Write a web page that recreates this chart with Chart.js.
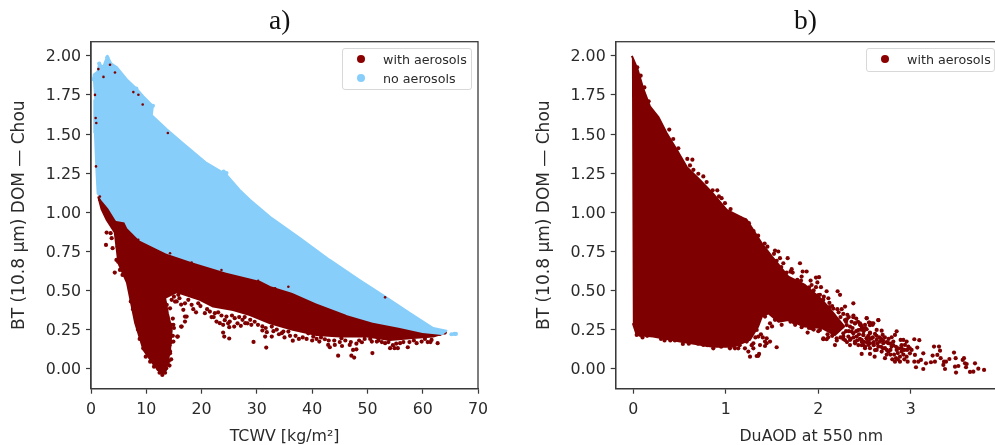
<!doctype html>
<html>
<head>
<meta charset="UTF-8" />
<title>BT difference scatter</title>
<style>
  html, body { margin: 0; padding: 0; background: #fff; overflow: hidden; width: 995px; height: 445px; }
  canvas { position: absolute; top: 0; filter: blur(0.45px); }
  #chartA { left: 0; }
  #chartB { left: 520px; }
  .panel { position: absolute; top: 4px; font: 27.5px "Liberation Serif", serif; color: #111; line-height: 32px; }
  .legend { position: absolute; top: 47.5px; box-sizing: border-box; background: #fff; border: 1px solid #d8d8d8; border-radius: 3px;
            font: 12.7px "DejaVu Sans", sans-serif; color: #2a2a2a; filter: blur(0.3px); }
  .legend div { position: absolute; white-space: nowrap; line-height: 19px; }
  .legend i { position: absolute; width: 8px; height: 8px; border-radius: 50%; }
</style>
</head>
<body>
<canvas id="chartA" width="520" height="445"></canvas>
<canvas id="chartB" width="500" height="445"></canvas>
<div class="panel" id="titleA" style="left:269px"></div>
<div class="panel" id="titleB" style="left:794px"></div>
<div class="legend" id="legendA" style="left:342px;width:130px;height:42px"></div>
<div class="legend" id="legendB" style="left:866px;width:129px;height:24px"></div>

<script src="https://cdn.jsdelivr.net/npm/chart.js@4/dist/chart.umd.min.js"></script>
<script>
const panelTitles = ["a)", "b)"];
const yLabel = "BT (10.8 μm) DOM — Chou";
const xLabelA = "TCWV [kg/m²]";
const xLabelB = "DuAOD at 550 nm";
const seriesWith = "with aerosols";
const seriesWithout = "no aerosols";
const yTicks = [0, 0.25, 0.5, 0.75, 1, 1.25, 1.5, 1.75, 2];
const xTicksA = [0, 10, 20, 30, 40, 50, 60, 70];
const xTicksB = [0, 1, 2, 3];

const colorWith = "#7f0000";
const colorWithout = "#87cefa";
const inkColor = "#2a2a2a";
const spineColor = "#3a3a3a";
const labelFont = { family: "'DejaVu Sans'", size: 15.8 };
const yTitleFont = { family: "'DejaVu Sans'", size: 17 };

// a) outline of the solid light blue cloud
const noAerosolOutlineA = [
  [0.35, 1.84], [0.5, 1.88], [1.2, 1.9], [1.45, 1.95], [2.2, 1.93], [2.95, 2.0], [3.7, 1.95], [4.6, 1.93], [6.45, 1.85],
  [8.25, 1.79], [9.5, 1.74], [11.2, 1.68], [11, 1.62], [13.7, 1.53], [16.7, 1.44], [20.9, 1.315], [24.5, 1.24],
  [26.9, 1.143], [28.75, 1.08], [32.7, 0.962], [37.8, 0.835], [43.2, 0.695], [48.6, 0.567], [52.8, 0.47],
  [57.7, 0.355], [61.9, 0.26], [64.3, 0.243], [63.5, 0.222], [60, 0.235], [55.9, 0.267], [51, 0.3], [46.2, 0.35],
  [40.8, 0.422], [36.5, 0.49], [32.4, 0.535], [30.6, 0.567], [24.5, 0.62], [18.4, 0.685], [13.7, 0.74],
  [8.9, 0.823], [6.7, 0.9], [6.15, 0.94], [4.6, 0.95], [3.2, 1.03], [2, 1.08], [1.2, 1.12], [1, 1.25],
  [0.7, 1.51], [0.6, 1.72],
];

// a) outline of the solid dark red cloud, most of its top is hidden by the blue one
const withAerosolOutlineA = [
  [1.3, 1.1], [1.9, 1.02], [2.85, 0.95], [4.3, 0.87], [4.95, 0.675], [6.5, 0.55], [8, 0.29], [9.5, 0.12], [11.6, 0.013],
  [12.8, -0.03], [13.6, -0.008], [14.3, 0.12], [14.6, 0.247], [13.9, 0.355], [13.4, 0.452], [15.5, 0.49], [19.7, 0.44],
  [22.1, 0.397], [25.7, 0.375], [28.75, 0.343], [32.4, 0.29], [36.5, 0.248], [40.8, 0.215], [45, 0.205], [49.9, 0.205],
  [54.1, 0.184], [58.2, 0.196], [61.9, 0.205], [63.9, 0.228], [62, 0.24], [60, 0.27], [30, 0.7], [10, 1],
];

// a) single dark red points around the lower edge
const withAerosolPointsA = [
  [14.1, 0.482], [14.59, 0.44], [15.79, 0.472], [17, 0.418], [18.2, 0.408], [19.4, 0.418], [20.6, 0.355], [17.3, 0.333],
  [17, 0.301], [16.3, 0.269], [15.7, 0.205], [14.3, 0.11], [14, 0.291], [14.6, 0.28], [13.7, 0.408], [14.3, 0.386],
  [21.5, 0.365], [22.4, 0.355], [22.7, 0.301], [23.3, 0.291], [23.9, 0.28], [25, 0.265], [25.9, 0.269], [27.1, 0.274],
  [27.4, 0.312], [24.5, 0.333], [26, 0.323], [23.9, 0.231], [24.1, 0.205], [25, 0.193], [29.4, 0.171], [31.7, 0.135],
  [31, 0.244], [31.8, 0.233], [32.7, 0.205], [31.5, 0.205], [32.7, 0.269], [34.5, 0.227], [34.8, 0.237], [28.8, 0.312],
  [27.9, 0.291], [25.1, 0.301], [15.2, 0.429], [16.7, 0.376], [36.5, 0.179], [41.3, 0.173], [42.3, 0.188], [42.9, 0.152],
  [43.2, 0.137], [44.1, 0.152], [45.4, 0.145], [44.7, 0.083], [47.1, 0.083], [47.6, 0.071], [50.9, 0.1], [47.4, 0.12],
  [48, 0.124], [46.8, 0.152], [49, 0.169], [50.8, 0.173], [51.7, 0.173], [53.2, 0.163], [54.1, 0.131], [54.9, 0.131],
  [55.5, 0.131], [57.3, 0.137], [58.9, 0.163], [59.8, 0.173], [62.7, 0.163], [61.6, 0.184], [55.9, 0.163], [45.3, 0.195],
  [40.2, 0.205], [39.3, 0.226], [35.7, 0.237], [64, 0.231], [63.1, 0.222], [2.71, 0.791], [2.83, 0.87], [3.74, 0.834],
  [3.91, 0.77], [4.3, 0.614], [4.6, 0.695], [4.9, 0.684], [3.55, 0.866], [5.7, 0.599], [5.24, 0.631], [4.34, 0.898],
  [16.4, 0.269], [15.6, 0.205], [17, 0.333], [14.9, 0.173], [14, 0.109], [14.3, 0.098], [12.8, -0.008], [12.4, -0.026],
  [13.4, -0.026], [12.9, -0.04], [12.2, -0.004], [13.6, 0.002], [9.45, 0.13], [9.9, 0.077], [10.7, 0.045], [11.4, 0.013],
  [15, 0.46], [15.5, 0.43], [16, 0.45], [16.3, 0.41], [17.6, 0.44], [18.5, 0.38], [19, 0.36], [19.8, 0.4], [21, 0.38],
  [21.8, 0.33], [22.2, 0.33], [23, 0.36], [23.6, 0.34], [24.2, 0.31], [24.8, 0.29], [25.5, 0.34], [26.5, 0.29], [26.8, 0.33],
  [27.8, 0.33], [28.3, 0.29], [29, 0.28], [29.6, 0.3], [30.2, 0.28], [31, 0.27], [31.6, 0.26], [33, 0.24], [33.6, 0.25],
  [34, 0.22], [35, 0.2], [36, 0.21], [37, 0.21], [37.6, 0.19], [38.3, 0.2], [39, 0.19], [40, 0.18], [40.8, 0.19], [41.6, 0.2],
  [43, 0.18], [44, 0.18], [45, 0.17], [46, 0.18], [47, 0.17], [48, 0.16], [48.5, 0.18], [49.5, 0.19], [50.5, 0.19], [52, 0.18],
  [52.6, 0.17], [53.8, 0.17], [54.6, 0.15], [55.2, 0.16], [56.5, 0.17], [57.6, 0.17], [58.4, 0.18], [60.4, 0.19], [60.9, 0.17],
  [61.4, 0.17], [14.8, 0.32], [14.9, 0.28], [15, 0.26], [14.8, 0.21], [14.5, 0.17], [14.2, 0.15], [14.5, 0.06], [14.1, 0.05],
  [14.2, 0.02], [13.9, 0.03], [9, 0.21], [8.5, 0.25], [8.8, 0.19], [7.6, 0.38], [7.2, 0.43], [6.3, 0.6], [5.8, 0.66], [5.4, 0.72],
  [4.8, 0.78], [13.3, 0.42], [13.6, 0.37], [13.8, 0.33],
];

// a) red specks that show on top of or beyond the blue cloud
const withAerosolOverBlueA = [
  [1.33, 1.915], [0.84, 1.602], [0.96, 1.57], [7.66, 1.768], [8.57, 1.751], [9.35, 1.689], [13.9, 1.506], [2.26, 1.865],
  [3.44, 1.943], [4.34, 1.893], [0.9, 1.293], [1.5, 1.08], [1.6, 1.1], [0.72, 1.75], [8.55, 0.823], [11.6, 0.755],
  [14.3, 0.738], [18.2, 0.678], [23.6, 0.631], [27.2, 0.571], [28.4, 0.567], [30.25, 0.561], [33.3, 0.514],
  [35.7, 0.524], [53.2, 0.456],
];

const noAerosolPointsA = [
  [24.5, 1.25], [24, 1.26], [11.2, 1.68], [8.2, 1.79], [2.95, 1.99], [1.48, 1.95], [0.4, 1.85], [65.2, 0.22], [65.7, 0.222], [66, 0.222],
];

// b) outline of the solid part of the cloud
const withAerosolOutlineB = [
  [-0.015, 2], [0.043, 1.92], [0.108, 1.79], [0.18, 1.676], [0.27, 1.61], [0.36, 1.507], [0.47, 1.4], [0.577, 1.29],
  [0.72, 1.207], [0.86, 1.12], [1.01, 1.015], [1.226, 0.951], [1.39, 0.8], [1.5, 0.716], [1.676, 0.589], [1.856, 0.535],
  [2.04, 0.44], [2.18, 0.343], [2.28, 0.27], [2.18, 0.215], [2.04, 0.26], [1.856, 0.269], [1.676, 0.311], [1.57, 0.3],
  [1.46, 0.354], [1.39, 0.333], [1.35, 0.27], [1.26, 0.184], [1.08, 0.14], [0.86, 0.14], [0.505, 0.173], [0.215, 0.205],
  [0.037, 0.215], [-0.005, 0.29],
];

// b) single points along the edges and in the tail
const withAerosolPointsB = [
  [2.523, 0.324], [2.548, 0.295], [2.559, 0.278], [2.595, 0.29], [2.649, 0.31], [2.462, 0.278], [2.48, 0.258], [2.523, 0.252],
  [2.631, 0.248], [2.685, 0.243], [2.559, 0.231], [2.613, 0.222], [2.696, 0.216], [2.847, 0.239], [2.829, 0.216], [2.793, 0.201],
  [2.89, 0.184], [2.919, 0.184], [3.038, 0.188], [3.092, 0.182], [2.955, 0.173], [2.937, 0.152], [2.901, 0.131], [2.811, 0.173],
  [2.757, 0.163], [2.703, 0.163], [2.667, 0.173], [2.631, 0.184], [2.577, 0.195], [2.523, 0.195], [2.487, 0.216], [2.469, 0.184],
  [2.487, 0.152], [2.541, 0.152], [2.595, 0.163], [2.649, 0.141], [2.721, 0.131], [2.793, 0.141], [2.847, 0.12], [2.901, 0.109],
  [2.973, 0.141], [3.009, 0.12], [3.07, 0.135], [2.991, 0.098], [3.045, 0.088], [2.955, 0.077], [2.883, 0.077], [2.84, 0.067],
  [2.829, 0.045], [2.883, 0.045], [2.966, 0.045], [3.038, 0.045], [3.081, 0.045], [3.135, 0.098], [3.11, 0.056], [3.164, 0.034],
  [3.218, 0.041], [3.261, 0.045], [3.236, 0.084], [3.251, 0.141], [3.305, 0.141], [3.316, 0.115], [3.287, 0.088], [3.323, 0.067],
  [3.359, 0.045], [3.417, 0.062], [3.381, 0.045], [3.467, 0.103], [3.485, 0.067], [3.575, 0.067], [3.561, 0.056], [3.478, 0.013],
  [3.514, 0.017], [3.586, 0.034], [3.604, 0.03], [3.597, 0.009], [3.694, 0.034], [3.73, 0], [3.792, -0.008], [3.676, -0.019],
  [3.64, -0.021], [3.489, -0.025], [3.37, -0.002], [3.352, 0.024], [3.135, -0.002], [3.056, 0.009], [2.559, 0.094], [2.609, 0.077],
  [2.721, 0.067], [2.469, 0.094], [2.757, 0.109], [2.685, 0.109], [2.631, 0.12], [2.505, 0.131], [2.559, 0.131],
  [1.532, 0.755], [1.568, 0.749], [1.521, 0.734], [1.669, 0.706], [1.586, 0.706], [1.802, 0.674], [1.622, 0.674], [1.712, 0.636],
  [1.831, 0.621], [1.874, 0.621], [1.658, 0.614], [1.723, 0.614], [1.82, 0.589], [1.975, 0.582], [2.008, 0.585], [1.773, 0.567],
  [1.917, 0.563], [1.99, 0.551], [1.813, 0.563], [1.975, 0.521], [2.029, 0.521], [2.09, 0.495], [2.209, 0.495], [2.235, 0.472],
  [1.928, 0.535], [2.018, 0.472], [2.054, 0.44], [2.109, 0.45], [2.379, 0.418], [2.289, 0.397], [2.119, 0.393], [2.162, 0.384],
  [2.206, 0.38], [2.253, 0.38], [2.314, 0.344], [2.379, 0.329], [2.552, 0.295], [2.307, 0.316], [2.588, 0.28],
  [2.505, 0.28], [2.451, 0.28], [2.397, 0.29], [1.604, 0.28], [1.885, 0.231], [1.82, 0.265], [1.737, 0.295], [2.054, 0.188],
  [2.108, 0.201], [2.199, 0.194], [2.271, 0.205], [2.343, 0.184], [2.397, 0.162], [2.487, 0.173], [2.541, 0.173], [1.928, 0.258],
  [2.018, 0.248], [1.532, 0.312], [1.478, 0.29], [1.424, 0.333], [1.37, 0.365], [1.424, 0.173], [1.352, 0.205], [1.226, 0.173],
  [1.298, 0.162], [1.442, 0.162], [1.334, 0.248], [1.55, 0.137], [1.36, 0.094], [1.334, 0.081], [1.424, 0.145], [1.478, 0.173],
  [1.442, 0.194], [1.37, 0.151], [2.18, 0.151], [2.09, 0.188], [2.055, 0.194], [1.262, 0.077], [1.351, 0.082],
  [1.135, 0.13], [1.099, 0.13], [1.045, 0.13], [0.865, 0.13], [0.757, 0.152], [0.536, 0.158], [0.338, 0.18], [0.037, 0.216],
  [0.08, 0.216], [1.244, 0.109], [1.207, 0.13], [1.298, 0.13], [0.08, 1.873], [0.12, 1.798], [0.091, 1.773], [0.043, 1.926],
  [0.166, 1.709], [0.187, 1.649], [0.389, 1.528], [0.432, 1.468], [0.487, 1.409], [0.584, 1.341], [0.639, 1.336], [0.613, 1.299],
  [0.65, 1.271], [0.703, 1.246], [0.757, 1.229], [0.793, 1.193], [0.858, 1.14], [0.908, 1.14], [0.955, 1.09], [1.052, 1.02],
  [1.153, 0.962], [1.207, 0.951], [0.991, 1.058], [0.926, 1.101], [2.289, 0.311], [2.343, 0.269], [2.397, 0.29], [2.361, 0.237],
  [2.433, 0.247], [2.469, 0.269], [2.487, 0.215], [2.415, 0.205], [2.325, 0.205], [2.271, 0.226], [2.217, 0.247], [2.253, 0.269],
  [2.397, 0.173], [2.469, 0.173], [2.523, 0.194], [2.559, 0.226], [2.289, 0.183], [2.343, 0.151], [2.505, 0.141], [2.559, 0.162],
  [2.613, 0.119], [2.433, 0.151], [2.379, 0.226], [2.451, 0.29], [2.307, 0.279], [2.523, 0.322], [2.577, 0.29], [2.649, 0.311],
  [2.12, 0.36], [2.16, 0.33], [2.2, 0.31], [2.24, 0.33], [2.27, 0.35], [2.3, 0.3], [2.33, 0.33], [2.36, 0.3], [2.38, 0.34],
  [2.41, 0.32], [2.43, 0.3], [2.46, 0.25], [2.49, 0.24], [2.51, 0.26], [2.44, 0.22], [2.41, 0.24], [2.37, 0.26], [2.33, 0.24],
  [2.3, 0.24], [2.27, 0.19], [2.24, 0.2], [2.2, 0.18], [2.31, 0.17], [2.35, 0.19], [2.38, 0.2], [2.42, 0.18], [2.45, 0.19],
  [2.47, 0.15], [2.52, 0.17], [2.54, 0.21], [2.56, 0.19], [2.59, 0.2], [2.6, 0.17], [2.63, 0.21], [2.66, 0.2], [2.68, 0.19],
  [2.7, 0.18], [2.72, 0.2], [2.74, 0.17], [2.76, 0.19], [2.78, 0.16], [2.6, 0.15], [2.64, 0.16], [2.68, 0.14], [2.7, 0.13],
  [2.74, 0.12], [2.78, 0.12], [2.81, 0.15], [2.84, 0.14], [2.87, 0.13], [2.9, 0.15], [2.93, 0.12], [2.96, 0.12], [2.99, 0.13],
  [2.92, 0.09], [2.86, 0.1], [2.82, 0.09], [2.78, 0.09], [2.74, 0.09], [2.8, 0.06], [2.86, 0.06], [2.93, 0.06],
  [1.25, 0.93], [1.3, 0.88], [1.35, 0.85], [1.42, 0.8], [1.45, 0.78], [1.55, 0.69], [1.6, 0.65], [1.7, 0.62], [1.9, 0.52],
  [1.95, 0.5], [2, 0.47], [2.06, 0.46], [2.12, 0.42], [2.15, 0.4], [2.22, 0.36], [1.7, 0.3], [1.75, 0.28], [1.8, 0.29],
  [1.9, 0.26], [1.95, 0.25], [2, 0.24], [2.1, 0.22], [2.15, 0.21], [0.1, 0.2], [0.15, 0.21], [0.3, 0.19], [0.4, 0.18],
  [0.45, 0.18], [0.6, 0.16], [0.7, 0.16], [0.8, 0.15], [0.95, 0.14], [1.15, 0.15], [1.32, 0.2], [1.38, 0.22], [1.4, 0.2],
  [1.45, 0.26], [1.5, 0.27], [1.28, 0.15],
];

function toPoints(pairs) {
  return pairs.map(([x, y]) => ({ x, y }));
}

function cloud(pairs, color, order) {
  return {
    data: toPoints(pairs),
    showLine: true,
    fill: "shape",
    tension: 0,
    borderColor: color,
    borderWidth: 2,
    borderJoinStyle: "round",
    backgroundColor: color,
    pointRadius: 0,
    order,
  };
}

function dots(pairs, color, order, radius = 2.1) {
  return {
    data: toPoints(pairs),
    showLine: false,
    backgroundColor: color,
    borderWidth: 0,
    pointRadius: radius,
    order,
  };
}

// top and right spines, Chart.js only draws the left and bottom ones here
const spines = {
  id: "spines",
  afterDraw(chart) {
    const { ctx, chartArea } = chart;
    ctx.save();
    ctx.strokeStyle = spineColor;
    ctx.lineWidth = 1.3;
    ctx.strokeRect(chartArea.left, chartArea.top, chartArea.right - chartArea.left, chartArea.bottom - chartArea.top);
    ctx.restore();
  },
};

function makeChart(id, datasets, cfg) {
  return new Chart(document.getElementById(id), {
    type: "scatter",
    data: { datasets },
    plugins: [spines],
    options: {
      responsive: false,
      animation: false,
      events: [],
      clip: false,
      layout: { autoPadding: false, padding: { left: 0, top: 41.7, right: cfg.right, bottom: 0 } },
      plugins: { legend: { display: false }, tooltip: { enabled: false } },
      scales: {
        x: {
          type: "linear",
          min: cfg.xMin,
          max: cfg.xMax,
          afterBuildTicks(scale) { scale.ticks = cfg.xTicks.map((value) => ({ value })); },
          afterFit(scale) { scale.height = 56.3; },
          border: { color: spineColor, width: 1.3 },
          grid: { drawOnChartArea: false, tickColor: spineColor, tickLength: 5, tickWidth: 1.2 },
          ticks: { color: inkColor, font: labelFont, padding: 7, maxRotation: 0, autoSkip: false },
          title: { display: true, text: cfg.xLabel, color: inkColor, font: labelFont, padding: { top: 0, bottom: -1 } },
        },
        y: {
          type: "linear",
          min: -0.128,
          max: 2.09,
          afterBuildTicks(scale) { scale.ticks = yTicks.map((value) => ({ value })); },
          afterFit(scale) { scale.width = cfg.yWidth; },
          border: { color: spineColor, width: 1.3 },
          grid: { drawOnChartArea: false, tickColor: spineColor, tickLength: 5, tickWidth: 1.2 },
          ticks: {
            color: inkColor,
            font: labelFont,
            padding: 5,
            labelOffset: 1.5,
            autoSkip: false,
            callback(value) { return value.toFixed(2); },
          },
          title: { display: true, text: yLabel, color: inkColor, font: yTitleFont, padding: { top: cfg.yTitleGap, bottom: 0 } },
        },
      },
    },
  });
}

makeChart("chartA", [
  cloud(withAerosolOutlineA, colorWith, 5),
  dots(withAerosolPointsA, colorWith, 4),
  cloud(noAerosolOutlineA, colorWithout, 3),
  dots(noAerosolPointsA, colorWithout, 2),
  dots(withAerosolOverBlueA, colorWith, 1, 1.3),
], { xMin: 0, xMax: 70, xTicks: xTicksA, xLabel: xLabelA, right: 42, yWidth: 91, yTitleGap: 9 });

makeChart("chartB", [
  cloud(withAerosolOutlineB, colorWith, 2),
  dots(withAerosolPointsB, colorWith, 1),
], { xMin: -0.19, xMax: 4.04, xTicks: xTicksB, xLabel: xLabelB, right: 13, yWidth: 95.7, yTitleGap: 14 });

function fillLegend(id, rows, textLeft, dotLeft) {
  const box = document.getElementById(id);
  rows.forEach((row, i) => {
    const label = document.createElement("div");
    label.textContent = row.name;
    label.style.left = textLeft + "px";
    label.style.top = 1 + i * 19 + "px";
    const dot = document.createElement("i");
    dot.style.background = row.color;
    dot.style.left = dotLeft + "px";
    dot.style.top = 6.5 + i * 19 + "px";
    box.appendChild(dot);
    box.appendChild(label);
  });
}

document.getElementById("titleA").textContent = panelTitles[0];
document.getElementById("titleB").textContent = panelTitles[1];
fillLegend("legendA", [{ name: seriesWith, color: "#8b0000" }, { name: seriesWithout, color: colorWithout }], 40, 14);
fillLegend("legendB", [{ name: seriesWith, color: "#8b0000" }], 40, 14);
</script>
</body>
</html>
